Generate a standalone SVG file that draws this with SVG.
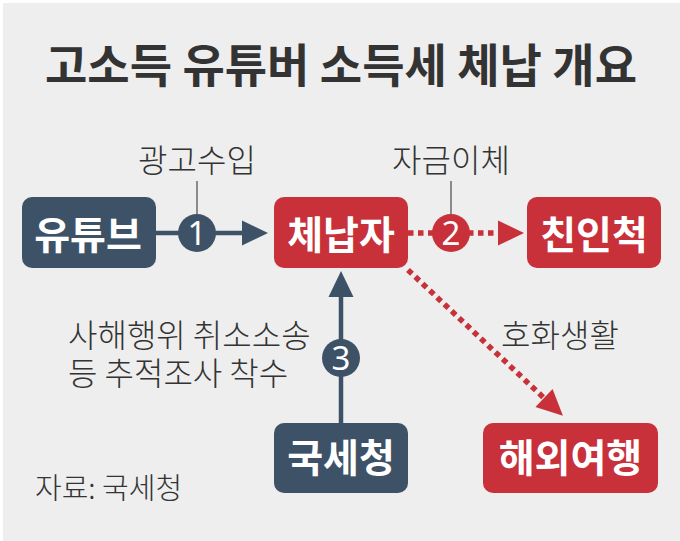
<svg xmlns="http://www.w3.org/2000/svg" width="680" height="541" viewBox="0 0 680 541">
  <defs>
    <style>
      .title { font-family: "Noto Sans CJK KR", "Noto Sans", sans-serif; font-size: 46px; font-weight: 700; fill: #333333; }
      .node-text { font-family: "Noto Sans CJK KR", "Noto Sans", sans-serif; font-size: 39px; font-weight: 700; fill: #ffffff; text-anchor: middle; }
      .label { font-family: "Noto Sans CJK KR", "Noto Sans", sans-serif; font-size: 32px; font-weight: 300; fill: #333333; }
      .source { font-family: "Noto Sans CJK KR", "Noto Sans", sans-serif; font-size: 29px; font-weight: 300; fill: #333333; }
      .num { font-family: "Noto Sans", "Liberation Sans", sans-serif; font-size: 33px; font-weight: 400; fill: #ffffff; text-anchor: middle; }
      .dark { fill: #3e5267; }
      .red { fill: #c8303a; }
      .solid { stroke: #3e5267; stroke-width: 4.5; fill: none; }
      .dotted { stroke: #c8303a; stroke-width: 5.5; stroke-dasharray: 5.5 4.5; fill: none; }
      .leader { stroke: #555555; stroke-width: 1.3; fill: none; }
    </style>
    <marker id="arrow-dark" markerUnits="userSpaceOnUse" markerWidth="27" markerHeight="26" refX="0" refY="12.5" orient="auto" overflow="visible">
      <path d="M0,0 L26,12.5 L0,25 z" fill="#3e5267"/>
    </marker>
    <marker id="arrow-red" markerUnits="userSpaceOnUse" markerWidth="27" markerHeight="26" refX="0" refY="12.5" orient="auto" overflow="visible">
      <path d="M0,0 L26,12.5 L0,25 z" fill="#c8303a"/>
    </marker>
  </defs>

  <rect x="0" y="0" width="680" height="541" fill="#ffffff"/>
  <rect x="3" y="3" width="677" height="538" fill="#edeeed"/>

  <text class="title" x="341" y="82" text-anchor="middle">고소득 유튜버 소득세 체납 개요</text>

  <g id="connectors">
    <path class="solid" d="M156,233 L242,233" marker-end="url(#arrow-dark)"/>
    <path class="dotted" d="M408,233 L498,233" marker-end="url(#arrow-red)"/>
    <path class="solid" d="M341,423 L341,297" marker-end="url(#arrow-dark)"/>
    <path class="dotted" d="M408,270 L544,398" marker-end="url(#arrow-red)"/>

    <line class="leader" x1="197" y1="181" x2="197" y2="215"/>
    <line class="leader" x1="451" y1="181" x2="451" y2="215"/>

    <circle class="dark" cx="197" cy="233" r="19"/>
    <text class="num" x="197" y="245">1</text>
    <circle class="red" cx="451" cy="233" r="19"/>
    <text class="num" x="451" y="245">2</text>
    <circle class="dark" cx="341" cy="358" r="19"/>
    <text class="num" x="341" y="370">3</text>

    <text class="label" x="197" y="172" text-anchor="middle">광고수입</text>
    <text class="label" x="451" y="172" text-anchor="middle">자금이체</text>
    <text class="label" x="560" y="347" text-anchor="middle">호화생활</text>
    <text class="label"><tspan x="68" y="347">사해행위 취소소송</tspan><tspan x="68" y="385">등 추적조사 착수</tspan></text>
  </g>

  <g id="node-youtube">
    <rect class="dark" x="22" y="197" width="134" height="71" rx="10"/>
    <text class="node-text" x="88" y="249">유튜브</text>
  </g>
  <g id="node-delinquent">
    <rect class="red" x="274" y="197" width="134" height="71" rx="10"/>
    <text class="node-text" x="341" y="249">체납자</text>
  </g>
  <g id="node-relatives">
    <rect class="red" x="527" y="197" width="134" height="71" rx="10"/>
    <text class="node-text" x="594" y="249">친인척</text>
  </g>
  <g id="node-nts">
    <rect class="dark" x="274" y="423" width="134" height="70" rx="10"/>
    <text class="node-text" x="341" y="472">국세청</text>
  </g>
  <g id="node-travel">
    <rect class="red" x="483" y="423" width="175" height="70" rx="10"/>
    <text class="node-text" x="570.5" y="472">해외여행</text>
  </g>

  <text class="source" x="35" y="499">자료: 국세청</text>
</svg>
